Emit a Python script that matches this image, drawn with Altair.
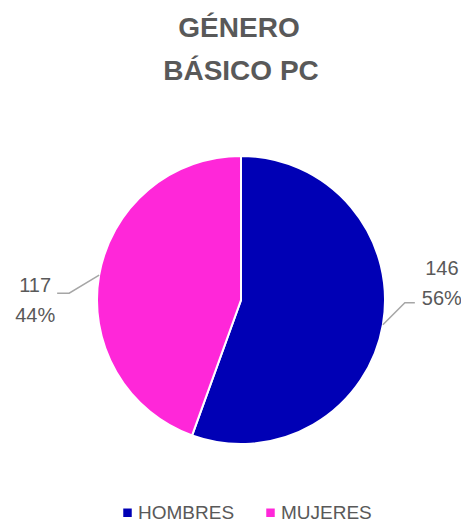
import math
import altair as alt
import pandas as pd

# ---- data ----
categories = ["HOMBRES", "MUJERES"]
counts = [146, 117]
percent_labels = ["56%", "44%"]
colors = ["#0000B5", "#FF27D9"]
title_lines = ["GÉNERO", "BÁSICO PC"]

FONT = "Liberation Sans"
GRAY = "#595959"
W, H = 453, 514
CX, CY, R = 233, 292, 144

df = pd.DataFrame({"cat": categories, "count": counts, "order": list(range(len(categories)))})

# geometry of leader lines derived from slice mid-angles
total = sum(counts)
cum = 0
lines_rows, label_rows = [], []
for i, (c, v) in enumerate(zip(categories, counts)):
    mid = (cum + v / 2) / total * 2 * math.pi
    cum += v
    sx, sy = CX + R * math.sin(mid), CY - R * math.cos(mid)
    right = math.sin(mid) > 0
    if right:
        ex, ey = sx + 22, sy - 22
        fx, fy = ex + 10, ey
        lx = fx + 27
        vy, py = fy - 28, fy + 2
    else:
        ex, ey = sx - 30, sy + 18
        fx, fy = ex - 12, ey
        lx = fx - 22
        vy, py = fy - 1, fy + 29
    for k, (x, y) in enumerate([(sx, sy), (ex, ey), (fx, fy)]):
        lines_rows.append({"cat": c, "k": k, "x": x, "y": y})
    label_rows.append({"cat": c, "txt": str(v), "x": lx, "y": vy})
    label_rows.append({"cat": c, "txt": percent_labels[i], "x": lx, "y": py})

lines_df = pd.DataFrame(lines_rows)
labels_df = pd.DataFrame(label_rows)
title_df = pd.DataFrame({"txt": title_lines, "x": [231, 233], "y": [29, 72]})

pie = alt.Chart(df).mark_arc(outerRadius=R, stroke="white", strokeWidth=2).encode(
    theta=alt.Theta("count:Q", stack=True),
    color=alt.Color(
        "cat:N",
        scale=alt.Scale(domain=categories, range=colors),
        legend=alt.Legend(
            title=None,
            orient="none",
            direction="horizontal",
            legendX=110,
            legendY=495,
            symbolType="square",
            symbolSize=72,
            symbolStrokeWidth=0,
            labelFontSize=19,
            labelFont=FONT,
            labelColor=GRAY,
            labelOffset=1,
            columnPadding=26,
            padding=0,
        ),
    ),
    order=alt.Order("order:Q"),
    x=alt.value(CX),
    y=alt.value(CY),
)

leaders = alt.Chart(lines_df).mark_line(color="#A6A6A6", strokeWidth=1.5).encode(
    x=alt.X("x:Q", scale=None, axis=None),
    y=alt.Y("y:Q", scale=None, axis=None),
    detail="cat:N",
    order="k:Q",
)

labels = alt.Chart(labels_df).mark_text(
    font=FONT, fontSize=20, color=GRAY, align="center", baseline="alphabetic"
).encode(
    x=alt.X("x:Q", scale=None, axis=None),
    y=alt.Y("y:Q", scale=None, axis=None),
    text="txt:N",
)

title = alt.Chart(title_df).mark_text(
    font=FONT, fontSize=28, fontWeight="bold", color=GRAY, align="center", baseline="alphabetic"
).encode(
    x=alt.X("x:Q", scale=None, axis=None),
    y=alt.Y("y:Q", scale=None, axis=None),
    text="txt:N",
)

chart = alt.layer(pie, leaders, labels, title).properties(
    width=W, height=H, autosize=alt.AutoSizeParams(type="none"), padding=0
).configure_view(stroke=None)

chart.save("out.html", embed_options={"renderer": "svg", "actions": False})
